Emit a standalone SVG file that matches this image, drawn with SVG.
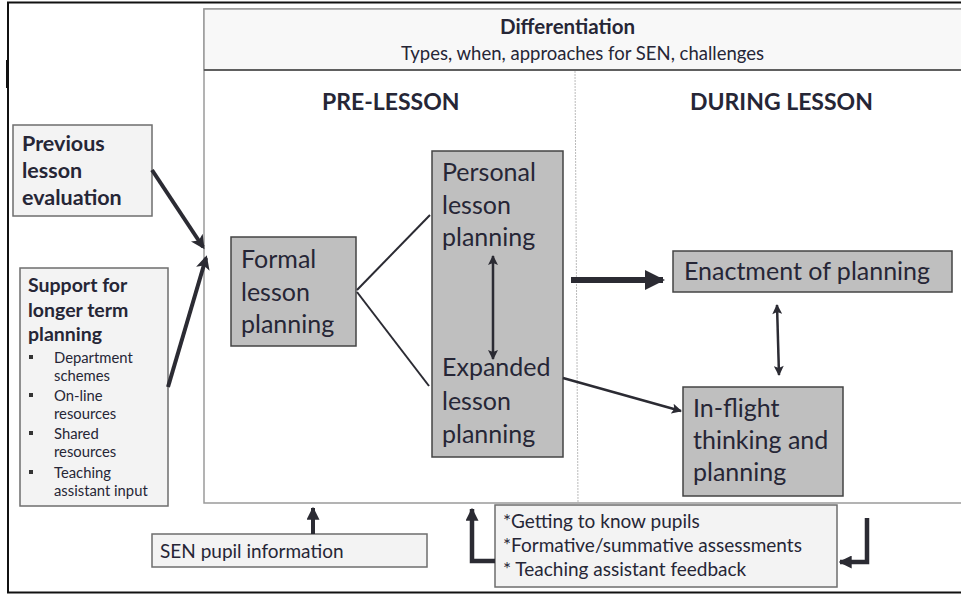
<svg xmlns="http://www.w3.org/2000/svg" width="961" height="595" viewBox="0 0 961 595">
<defs>
<style>
text{font-family:Lato,"Open Sans","Liberation Sans",sans-serif;fill:#262636}
.b{font-weight:bold}
.big{font-size:25px}
.lite{fill:#f3f3f3;stroke:#6e6e6e;stroke-width:1.5}
.grey{fill:#bfbfbf;stroke:#444;stroke-width:1.5}
.con{stroke:#2b2b33;fill:none}
</style>
<marker id="hm" markerUnits="userSpaceOnUse" viewBox="0 0 10 10" refX="8" refY="5" markerWidth="15" markerHeight="14" orient="auto"><path d="M0,0 L10,5 L0,10 L2.5,5 z" fill="#2b2b33"/></marker>
<marker id="hb" markerUnits="userSpaceOnUse" viewBox="0 0 10 10" refX="9" refY="5" markerWidth="22" markerHeight="20" orient="auto"><path d="M0,0 L10,5 L0,10 z" fill="#2b2b33"/></marker>
<marker id="hs" markerUnits="userSpaceOnUse" viewBox="0 0 10 10" refX="9" refY="5" markerWidth="11" markerHeight="10" orient="auto-start-reverse"><path d="M0,0 L10,5 L0,10 L2,5 z" fill="#2b2b33"/></marker>
<marker id="hu" markerUnits="userSpaceOnUse" viewBox="0 0 10 10" refX="9" refY="5" markerWidth="13" markerHeight="13" orient="auto"><path d="M0,0 L10,5 L0,10 z" fill="#2b2b33"/></marker>
</defs>
<rect x="0" y="0" width="961" height="595" fill="#fff"/>
<rect x="8" y="2.5" width="960" height="590" fill="none" stroke="#111" stroke-width="2"/>
<line x1="7.5" y1="60" x2="7.5" y2="88" stroke="#111" stroke-width="3"/>

<g id="frame">
<rect x="204" y="9" width="770" height="494" fill="#fff" stroke="#9a9a9a" stroke-width="1.5"/>
<rect x="204" y="9" width="770" height="61" fill="#f8f8f8" stroke="#9a9a9a" stroke-width="1.5"/>
<line x1="204" y1="70" x2="961" y2="70" stroke="#444" stroke-width="1.5"/>
<line x1="575" y1="71" x2="578" y2="503" stroke="#bbb" stroke-width="1" stroke-dasharray="2,1"/>
</g>

<g id="differentiation">
<text x="500" y="34" class="b" font-size="20.5">Differentiation</text>
<text x="401" y="60" font-size="18.5">Types, when, approaches for SEN, challenges</text>
</g>
<g id="pre-lesson"><text x="322" y="110" class="b" font-size="23">PRE-LESSON</text></g>
<g id="during-lesson"><text x="690" y="110" class="b" font-size="23">DURING LESSON</text></g>

<g id="previous">
<rect x="13" y="125" width="139" height="91" class="lite"/>
<text x="22" y="151" class="b" font-size="21.5">Previous</text>
<text x="22" y="178" class="b" font-size="21.5">lesson</text>
<text x="22" y="205" class="b" font-size="21.5">evaluation</text>
</g>

<g id="support">
<rect x="20" y="268" width="148" height="238" class="lite"/>
<text x="28" y="292" class="b" font-size="19.5">Support for</text>
<text x="28" y="317" class="b" font-size="19.5">longer term</text>
<text x="28" y="341" class="b" font-size="19.5">planning</text>
<g font-size="14.8">
<rect x="29" y="355" width="4" height="4" fill="#333"/>
<text x="54" y="363">Department</text><text x="54" y="381">schemes</text>
<rect x="29" y="393" width="4" height="4" fill="#333"/>
<text x="54" y="401">On-line</text><text x="54" y="419">resources</text>
<rect x="29" y="431" width="4" height="4" fill="#333"/>
<text x="54" y="439">Shared</text><text x="54" y="457">resources</text>
<rect x="29" y="470" width="4" height="4" fill="#333"/>
<text x="54" y="478">Teaching</text><text x="54" y="496">assistant input</text>
</g>
</g>

<g id="formal">
<rect x="231" y="237" width="125" height="109" class="grey"/>
<text x="241" y="268" class="big">Formal</text>
<text x="241" y="301" class="big">lesson</text>
<text x="241" y="333" class="big">planning</text>
</g>

<g id="personal-expanded">
<rect x="432" y="151" width="131" height="306" class="grey"/>
<text x="442" y="181" class="big">Personal</text>
<text x="442" y="214" class="big">lesson</text>
<text x="442" y="246" class="big">planning</text>
<text x="442" y="376" class="big">Expanded</text>
<text x="442" y="410" class="big">lesson</text>
<text x="442" y="443" class="big">planning</text>
</g>

<g id="enactment">
<rect x="673" y="251" width="279" height="41" class="grey"/>
<text x="684" y="280" class="big">Enactment of planning</text>
</g>

<g id="inflight">
<rect x="683" y="387" width="160" height="109" class="grey"/>
<text x="693" y="417" class="big">In-flight</text>
<text x="693" y="449" class="big">thinking and</text>
<text x="693" y="481" class="big">planning</text>
</g>

<g id="sen">
<rect x="152" y="534" width="275" height="33" class="lite"/>
<text x="160" y="558" font-size="19">SEN pupil information</text>
</g>

<g id="feedback">
<rect x="495" y="505" width="342" height="82" class="lite"/>
<text x="503" y="528" font-size="19">*Getting to know pupils</text>
<text x="503" y="552" font-size="19">*Formative/summative assessments</text>
<text x="503" y="576" font-size="19">* Teaching assistant feedback</text>
</g>

<g id="connectors">
<line x1="152" y1="170" x2="203" y2="247" class="con" stroke-width="4" marker-end="url(#hm)"/>
<line x1="168" y1="387" x2="206" y2="258" class="con" stroke-width="4" marker-end="url(#hm)"/>
<line x1="357" y1="290" x2="430" y2="215" class="con" stroke-width="2"/>
<line x1="357" y1="292" x2="429" y2="386" class="con" stroke-width="2"/>
<line x1="493" y1="256" x2="493" y2="359" class="con" stroke-width="2.5" marker-start="url(#hs)" marker-end="url(#hs)"/>
<line x1="571" y1="280" x2="663" y2="280" class="con" stroke-width="6" marker-end="url(#hb)"/>
<line x1="777" y1="305" x2="779" y2="375" class="con" stroke-width="2.5" marker-start="url(#hs)" marker-end="url(#hs)"/>
<line x1="563" y1="378" x2="681" y2="411" class="con" stroke-width="2.5" marker-end="url(#hs)"/>
<line x1="313" y1="534" x2="313" y2="508" class="con" stroke-width="4" marker-end="url(#hu)"/>
<polyline points="495,561 472,561 472,509" class="con" stroke-width="4.5" marker-end="url(#hu)"/>
<polyline points="867,518 867,562 840,562" class="con" stroke-width="4.5" marker-end="url(#hu)"/>
</g>
</svg>
